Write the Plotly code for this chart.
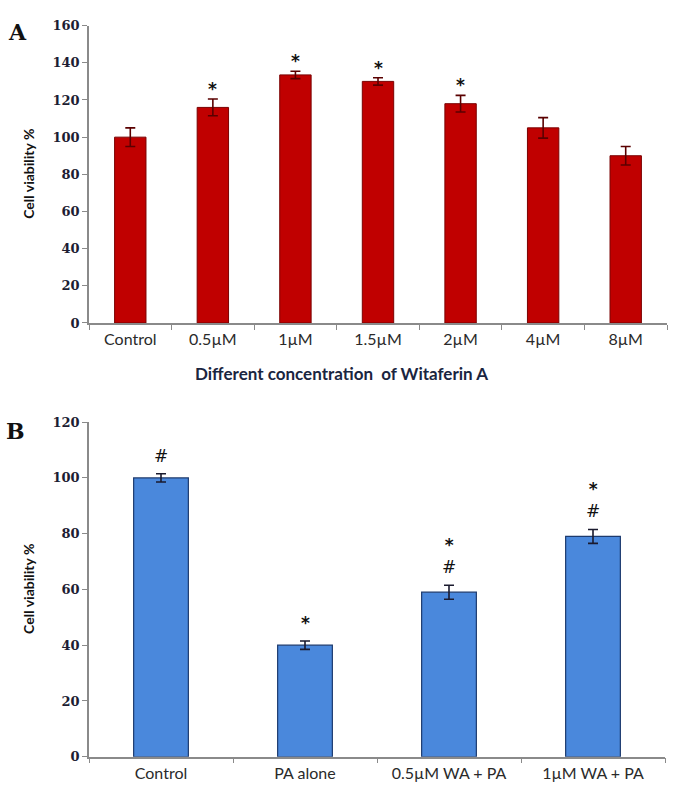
import plotly.graph_objects as go

# Panel A data
cats_a = ["Control", "0.5µM", "1µM", "1.5µM", "2µM", "4µM", "8µM"]
vals_a = [100, 116, 133.5, 130, 118, 105, 90]
err_a = [5, 4.5, 2, 2, 4.5, 5.5, 5]
sig_a = ["", "*", "*", "*", "*", "", ""]

# Panel B data
cats_b = ["Control", "PA alone", "0.5µM WA + PA", "1µM WA + PA"]
vals_b = [100, 40, 59, 79]
err_b = [1.5, 1.5, 2.5, 2.5]
sig_b = ["#", "<b>*</b>", "<b>*</b><br>#", "<b>*</b><br>#"]

W, H = 675, 804
def px_x(p): return p / W
def px_y(p): return 1 - p / H

fig = go.Figure()
fig.add_trace(go.Bar(
    x=cats_a, y=vals_a, width=0.38, xaxis="x", yaxis="y",
    marker=dict(color="#C00000", line=dict(color="#7A0000", width=1)),
    error_y=dict(type="data", array=err_a, visible=True, color="#5a0000", thickness=1.6, width=5),
    showlegend=False))
fig.add_trace(go.Bar(
    x=cats_b, y=vals_b, width=0.38, xaxis="x2", yaxis="y2",
    marker=dict(color="#4A88DC", line=dict(color="#1C3A6E", width=1.2)),
    error_y=dict(type="data", array=err_b, visible=True, color="#1a1a2e", thickness=1.6, width=5),
    showlegend=False))

tickfont_y = dict(family="DejaVu Serif", size=13, color="#1d1d33", weight="bold")
tickfont_x = dict(family="Lato", size=16, color="#2a2a2a")
axis_common = dict(showline=True, linecolor="#8a8a8a", linewidth=1.5, ticks="outside",
                   tickcolor="#8a8a8a", ticklen=5, showgrid=False, zeroline=False)

fig.update_layout(
    width=W, height=H, margin=dict(l=0, r=0, t=0, b=0),
    paper_bgcolor="white", plot_bgcolor="white",
    xaxis=dict(domain=[px_x(89), px_x(667)], anchor="y", tickson="boundaries",
               tickfont=tickfont_x, ticklabelstandoff=1, **axis_common),
    yaxis=dict(domain=[px_y(322), px_y(19)], anchor="x", range=[0, 160], dtick=20,
               tickfont=tickfont_y, **axis_common),
    xaxis2=dict(domain=[px_x(89), px_x(665)], anchor="y2", tickson="boundaries",
                tickfont=tickfont_x, ticklabelstandoff=1, **axis_common),
    yaxis2=dict(domain=[px_y(764), px_y(423)], anchor="x2", range=[0, 120], dtick=20,
                tickfont=tickfont_y, **axis_common),
)

ann = []
for c, v, e, s in zip(cats_a, vals_a, err_a, sig_a):
    if s:
        ann.append(dict(x=c, y=v + e, xref="x", yref="y", text=s, showarrow=False,
                        xanchor="center", yanchor="bottom", yshift=-2,
                        font=dict(family="DejaVu Sans", size=17, color="#111111", weight="bold")))
for c, v, e, s in zip(cats_b, vals_b, err_b, sig_b):
    ann.append(dict(x=c, y=v + e, xref="x2", yref="y2", text=s, showarrow=False,
                    xanchor="center", yanchor="bottom", yshift=6,
                    font=dict(family="DejaVu Sans", size=17, color="#111111")))

def paper_text(x, y, text, font, angle=0):
    return dict(x=px_x(x), y=px_y(y), xref="paper", yref="paper", text=text,
                showarrow=False, xanchor="center", yanchor="middle", textangle=angle, font=font)

ann += [
    paper_text(17, 25, "<b>A</b>", dict(family="DejaVu Serif", size=22, color="#111111")),
    paper_text(15, 432, "<b>B</b>", dict(family="DejaVu Serif", size=22, color="#111111")),
    paper_text(29, 170, "<b>Cell viability %</b>", dict(family="Lato", size=14, color="#111111"), -90),
    paper_text(29, 593, "<b>Cell viability %</b>", dict(family="Lato", size=14, color="#111111"), -90),
    paper_text(341, 373, "Different concentration  of Witaferin A",
               dict(family="Lato", size=17, color="#1a2540", weight="bold")),
]
fig.update_layout(annotations=ann)

fig.write_html("out.html", config={"displayModeBar": False},
               post_script="document.body.style.margin='0px';document.body.style.overflow='hidden';")
